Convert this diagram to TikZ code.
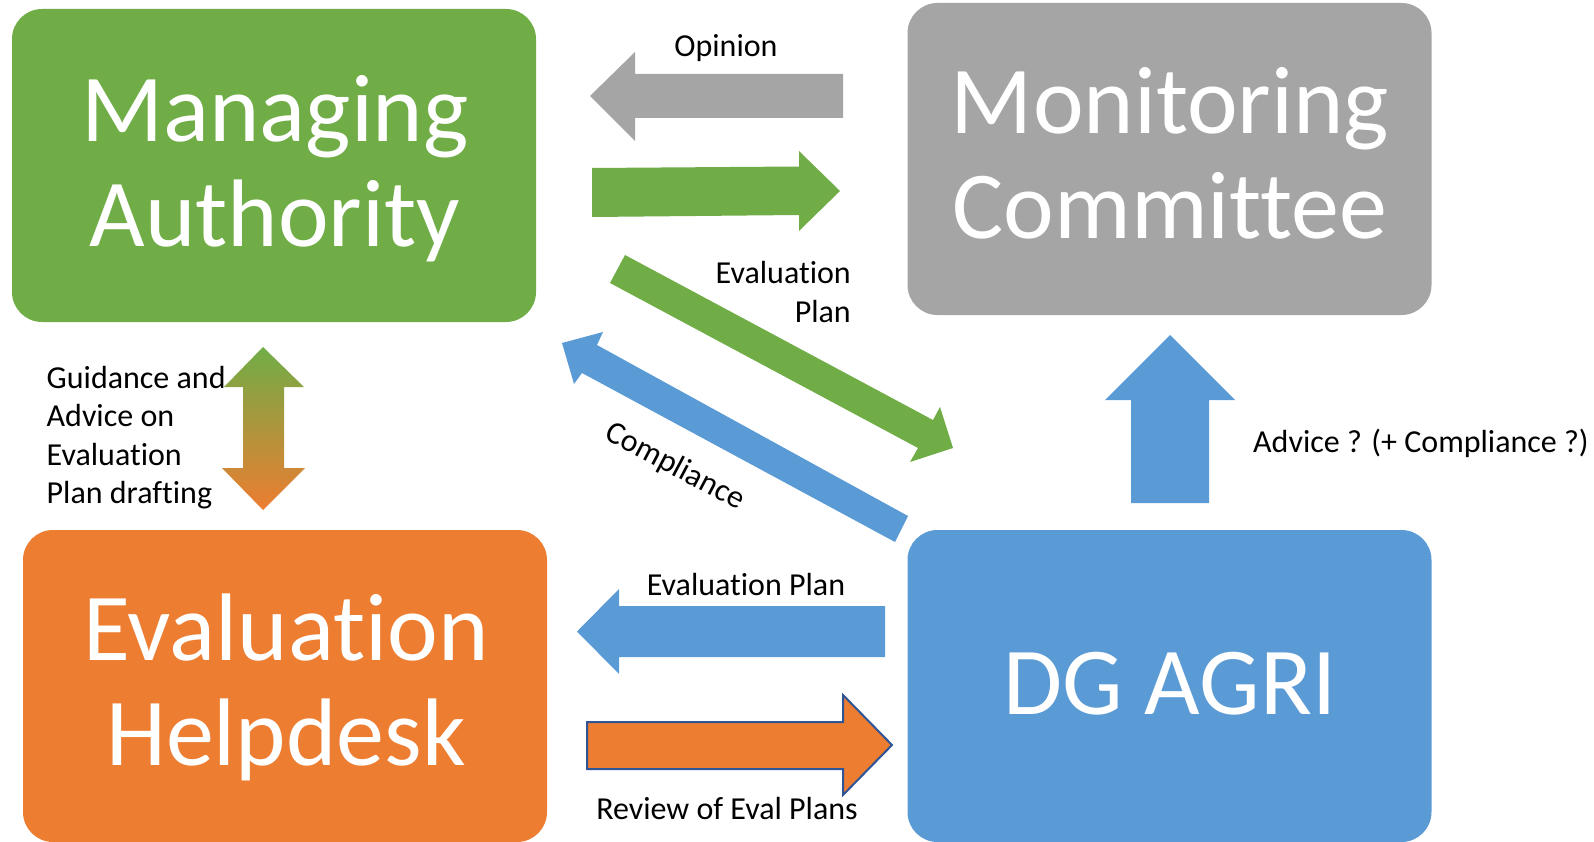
\documentclass[tikz,border=0pt]{standalone}
\usepackage{fontspec}
\setmainfont[Ligatures={NoCommon}]{Carlito}
\definecolor{cgreen}{HTML}{70AD47}
\definecolor{cgray}{HTML}{A5A5A5}
\definecolor{corange}{HTML}{ED7D31}
\definecolor{cblue}{HTML}{5B9BD5}
\definecolor{cedge}{HTML}{2F5597}
\begin{document}
\begin{tikzpicture}[x=1pt,y=-1pt,
  boxnode/.style={rounded corners=30pt, inner sep=0pt, minimum width=524pt, minimum height=312pt},
  boxtext/.style={text=white, font=\fontsize{96}{105}\selectfont, align=center, inner sep=0pt},
  lbl/.style={font=\fontsize{32}{38.5}\selectfont, inner sep=0pt, text=black}]
\useasboundingbox (0,0) rectangle (1594,842);
% boxes
\node[boxnode, fill=cgreen, minimum height=313pt] (ma) at (274,165.5) {};
\node[boxnode, fill=cgray] (mc) at (1169.5,159) {};
\node[boxnode, fill=corange] (eh) at (285,686) {};
\node[boxnode, fill=cblue] (dg) at (1169.5,686) {};
\node[boxtext, anchor=base] (mat) at (275,247) {Managing\\Authority};
\node[boxtext, anchor=base] (mct) at (1170,239) {Monitoring\\Committee};
\node[boxtext, anchor=base] (eht) at (286,765) {Evaluation\\Helpdesk};
\node[boxtext, anchor=base] (dgt) at (1170,714) {DG AGRI};
% opinion arrow (gray, left)
\fill[cgray] (843,74) -- (635,74) -- (635,52) -- (590,96) -- (635,141) -- (635,118) -- (843,118) -- cycle;
% green right arrow
\fill[cgreen] (592,168) -- (799,166.5) -- (799,151) -- (840,191) -- (799,231) -- (799,215) -- (592,217) -- cycle;
% green diagonal
\fill[cgreen] (625,255) -- (933,420) -- (940,407) -- (953,448) -- (910,462) -- (918,448) -- (610,283) -- cycle;
% blue diagonal
\fill[cblue] (908,516) -- (597,345) -- (603,332) -- (562,343) -- (574,384) -- (582,373) -- (895,542) -- cycle;
% blue left arrow
\fill[cblue] (885,606) -- (619,606) -- (619,589) -- (577,631.5) -- (619,674) -- (619,657) -- (885,657) -- cycle;
% orange right arrow
\filldraw[fill=corange, draw=cedge, line width=2pt] (587,722) -- (843,722) -- (843,695) -- (892,745) -- (843,795) -- (843,769) -- (587,769) -- cycle;
% up arrow
\fill[cblue] (1131,503) -- (1131,400) -- (1105,400) -- (1170,335) -- (1235,400) -- (1209,400) -- (1209,503) -- cycle;
% double arrow
\shade[top color=cgreen, bottom color=corange] (263,347) -- (304,387) -- (284,387) -- (284,468) -- (305,468) -- (263,510) -- (222,468) -- (243,468) -- (243,387) -- (224,387) -- cycle;
% labels
\node[lbl, anchor=base] (op) at (726,57) {Opinion};
\node[lbl, anchor=base east, align=right] (evp) at (851,322) {Evaluation\\Plan};
\node[lbl, rotate=-28] (comp) at (675,467) {Compliance};
\node[lbl, anchor=base west, align=left] (gd) at (46.5,503.5) {Guidance and\\Advice on\\Evaluation\\Plan drafting};
\node[lbl, anchor=base] (ep2) at (746,595) {Evaluation Plan};
\node[lbl, anchor=base] (rv) at (727,819) {Review of Eval Plans};
\node[lbl, anchor=base west] (adv) at (1253,452) {Advice ? (+ Compliance ?)};
\end{tikzpicture}
\end{document}
